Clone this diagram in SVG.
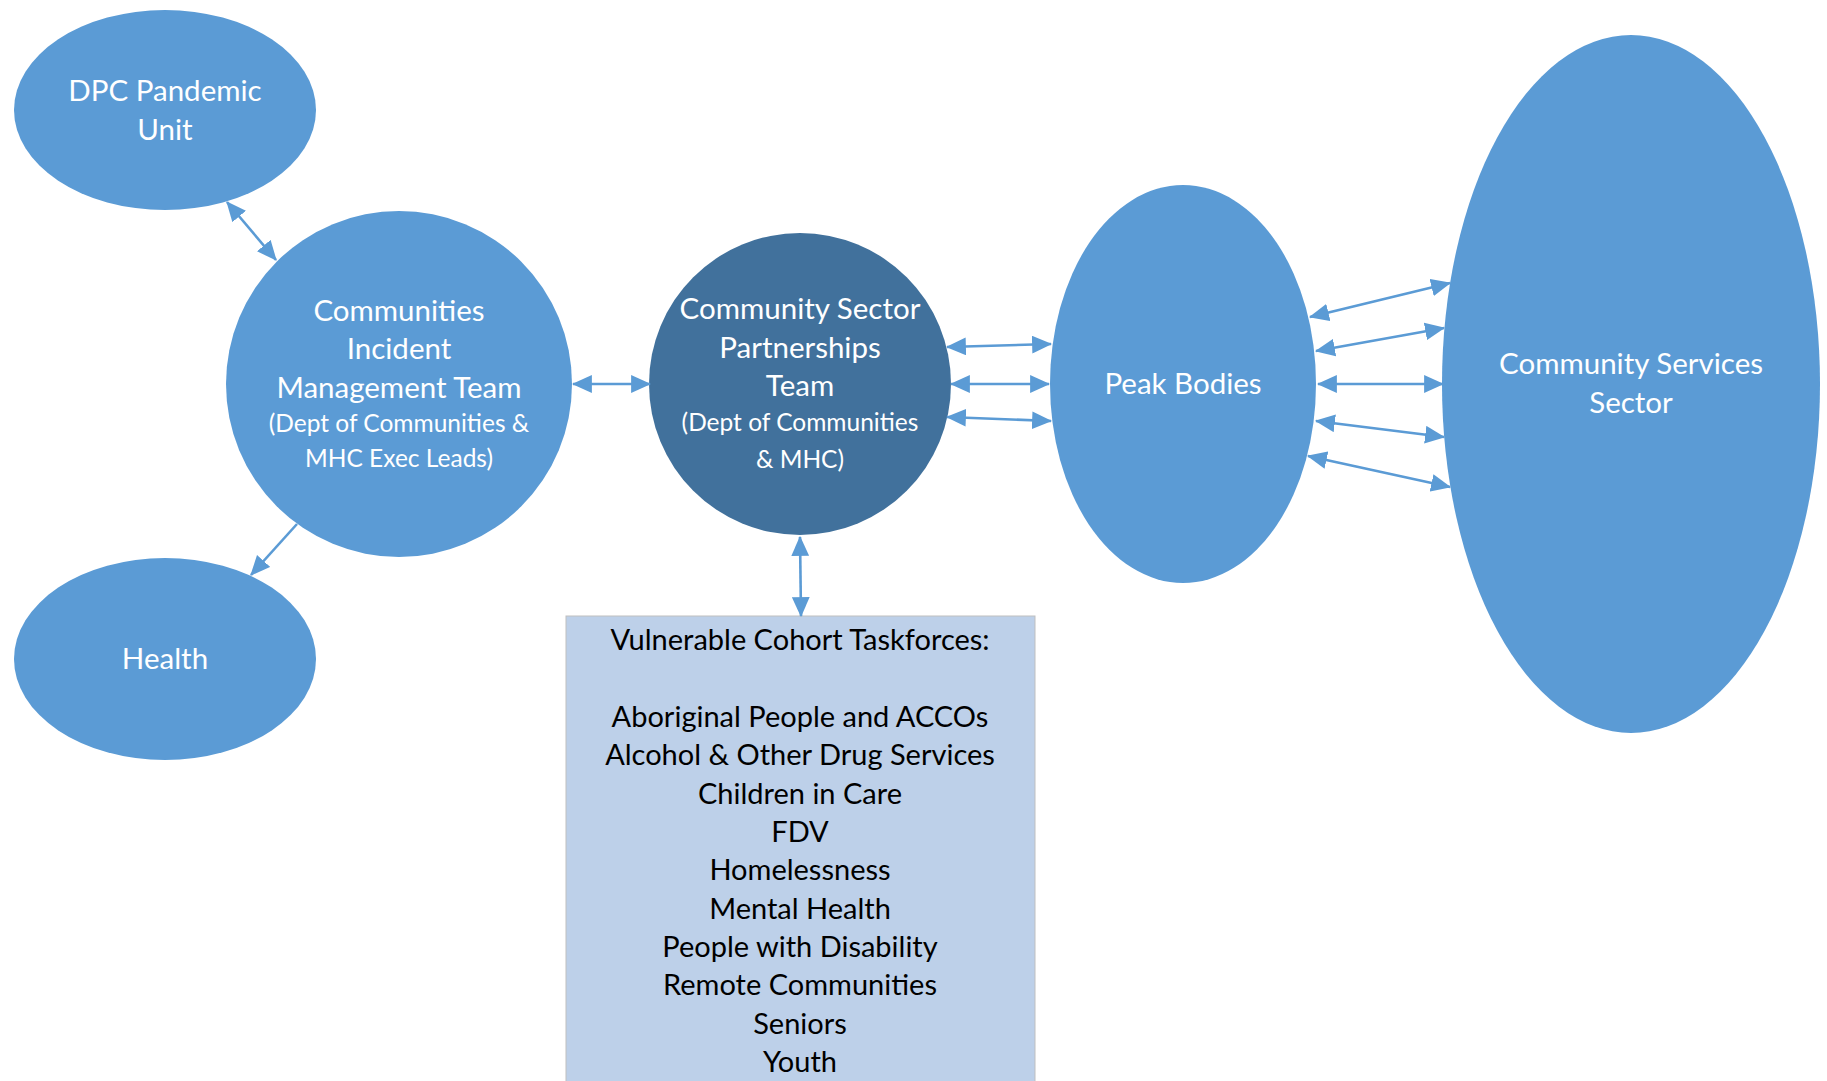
<svg xmlns="http://www.w3.org/2000/svg" width="1827" height="1081" viewBox="0 0 1827 1081">
<defs>
<style>
.node{fill:#5B9BD5;}
.dark{fill:#41719C;}
.lbl{font-family:Lato,"Open Sans","Liberation Sans",sans-serif;fill:#FFFFFF;text-anchor:middle;font-size:29.5px;}
.sm{font-size:24.5px;}
.box{fill:#BDD0E9;stroke:#BFBFBF;stroke-width:1;}
.btx{font-family:Lato,"Open Sans","Liberation Sans",sans-serif;fill:#000000;text-anchor:middle;font-size:29px;}
.conn{stroke:#5B9BD5;stroke-width:2.6;fill:none;}
</style>
<marker id="ah" markerUnits="userSpaceOnUse" markerWidth="20" markerHeight="18" viewBox="0 0 18 16" refX="17" refY="8" orient="auto-start-reverse">
<path d="M0,0 L18,8 L0,16 z" fill="#5B9BD5"/>
</marker>
</defs>
<rect width="1827" height="1081" fill="#FFFFFF"/>

<g id="dpc">
<ellipse class="node" cx="165" cy="110" rx="151" ry="100"/>
<text class="lbl" x="165" y="101">DPC Pandemic</text>
<text class="lbl" x="165" y="140">Unit</text>
</g>

<g id="health">
<ellipse class="node" cx="165" cy="659" rx="151" ry="101"/>
<text class="lbl" x="165" y="669">Health</text>
</g>

<g id="cimt">
<circle class="node" cx="399" cy="384" r="173"/>
<text class="lbl" x="399" y="321">Communities</text>
<text class="lbl" x="399" y="359">Incident</text>
<text class="lbl" x="399" y="398">Management Team</text>
<text class="lbl sm" x="399" y="432">(Dept of Communities &amp;</text>
<text class="lbl sm" x="399" y="467">MHC Exec Leads)</text>
</g>

<g id="cspt">
<circle class="dark" cx="800" cy="384" r="151"/>
<text class="lbl" x="800" y="319">Community Sector</text>
<text class="lbl" x="800" y="358">Partnerships</text>
<text class="lbl" x="800" y="396">Team</text>
<text class="lbl sm" x="800" y="431">(Dept of Communities</text>
<text class="lbl sm" x="800" y="468">&amp; MHC)</text>
</g>

<g id="peak">
<ellipse class="node" cx="1183" cy="384" rx="133" ry="199"/>
<text class="lbl" x="1183" y="394">Peak Bodies</text>
</g>

<g id="css">
<ellipse class="node" cx="1631" cy="384" rx="189" ry="349"/>
<text class="lbl" x="1631" y="374">Community Services</text>
<text class="lbl" x="1631" y="413">Sector</text>
</g>

<g id="taskforces">
<rect class="box" x="566" y="616" width="469" height="470"/>
<text class="btx" x="800" y="650">Vulnerable Cohort Taskforces:</text>
<text class="btx" x="800" y="727">Aboriginal People and ACCOs</text>
<text class="btx" x="800" y="765">Alcohol &amp; Other Drug Services</text>
<text class="btx" x="800" y="804">Children in Care</text>
<text class="btx" x="800" y="842">FDV</text>
<text class="btx" x="800" y="880">Homelessness</text>
<text class="btx" x="800" y="919">Mental Health</text>
<text class="btx" x="800" y="957">People with Disability</text>
<text class="btx" x="800" y="995">Remote Communities</text>
<text class="btx" x="800" y="1034">Seniors</text>
<text class="btx" x="800" y="1072">Youth</text>
</g>

<g id="connectors">
<line class="conn" x1="227" y1="202" x2="276" y2="260" marker-start="url(#ah)" marker-end="url(#ah)"/>
<line class="conn" x1="297" y1="524" x2="251" y2="575" marker-end="url(#ah)"/>
<line class="conn" x1="573" y1="384" x2="650" y2="384" marker-start="url(#ah)" marker-end="url(#ah)"/>
<line class="conn" x1="947" y1="347" x2="1051" y2="344" marker-start="url(#ah)" marker-end="url(#ah)"/>
<line class="conn" x1="951" y1="384" x2="1049" y2="384" marker-start="url(#ah)" marker-end="url(#ah)"/>
<line class="conn" x1="947" y1="417" x2="1051" y2="421" marker-start="url(#ah)" marker-end="url(#ah)"/>
<line class="conn" x1="1310" y1="317" x2="1450" y2="283" marker-start="url(#ah)" marker-end="url(#ah)"/>
<line class="conn" x1="1316" y1="351" x2="1444" y2="328" marker-start="url(#ah)" marker-end="url(#ah)"/>
<line class="conn" x1="1318" y1="384" x2="1443" y2="384" marker-start="url(#ah)" marker-end="url(#ah)"/>
<line class="conn" x1="1316" y1="421" x2="1444" y2="437" marker-start="url(#ah)" marker-end="url(#ah)"/>
<line class="conn" x1="1308" y1="456" x2="1450" y2="487" marker-start="url(#ah)" marker-end="url(#ah)"/>
<line class="conn" x1="800" y1="537" x2="801" y2="616" marker-start="url(#ah)" marker-end="url(#ah)"/>
</g>
</svg>
